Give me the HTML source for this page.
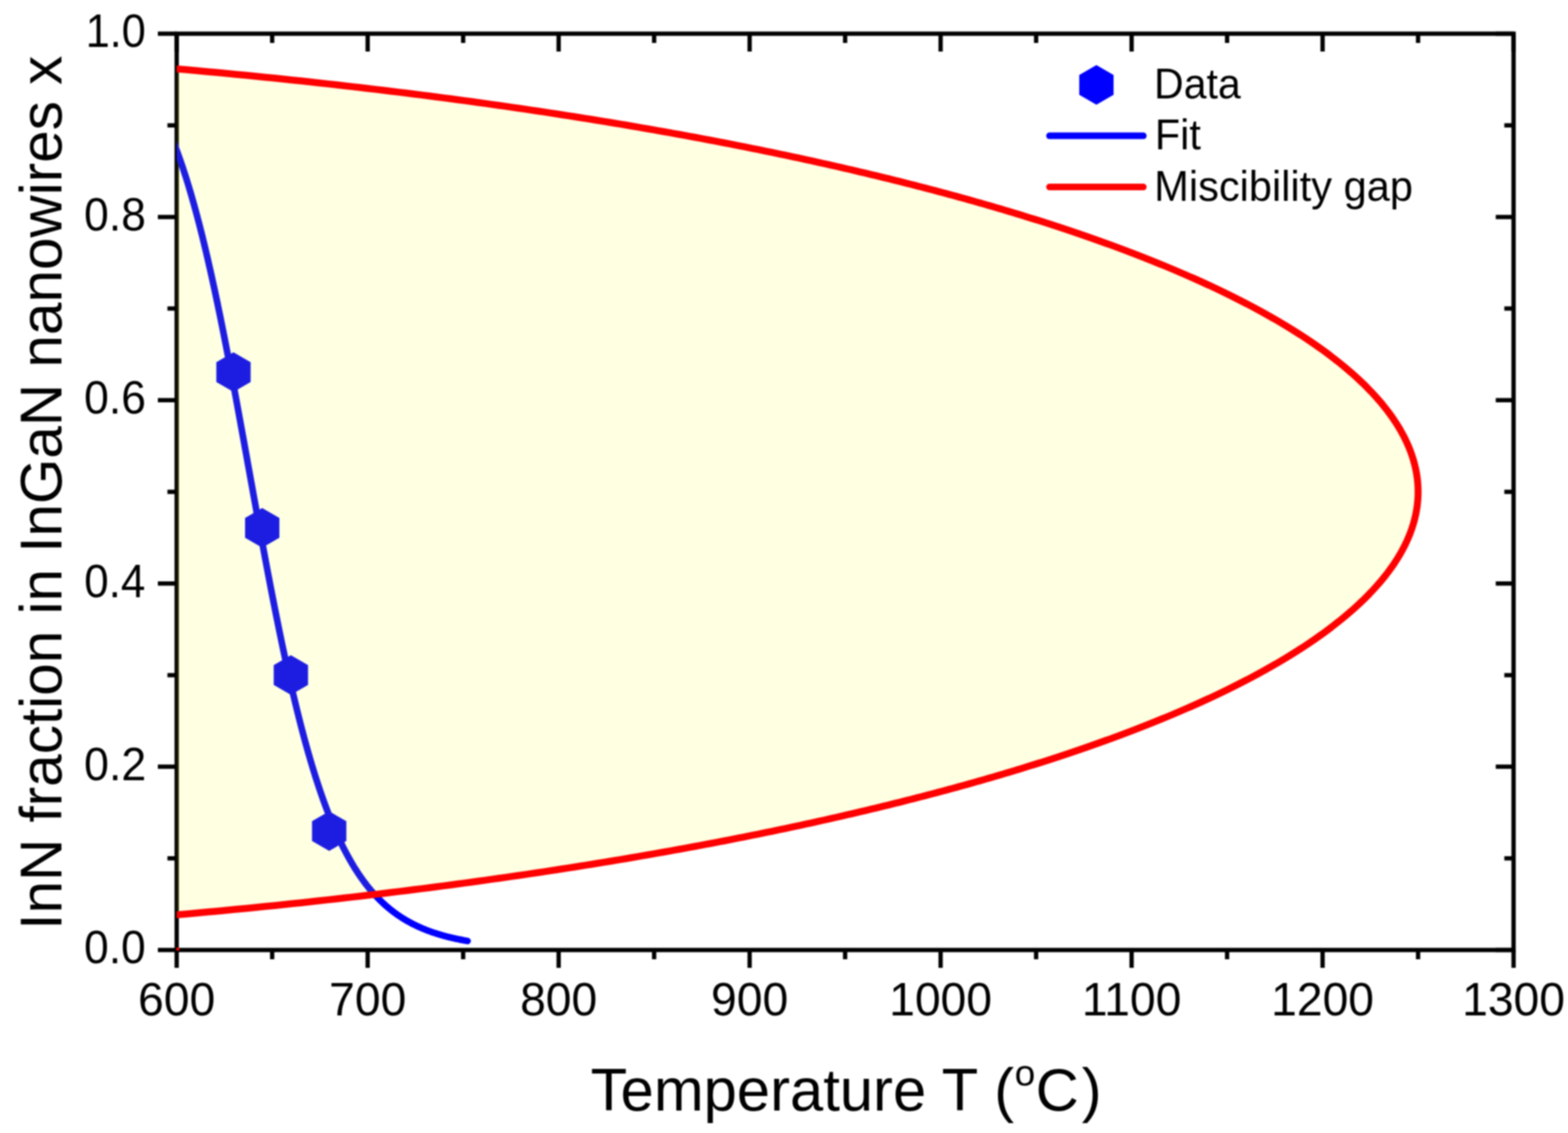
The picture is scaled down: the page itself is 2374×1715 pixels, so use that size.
<!DOCTYPE html>
<html><head><meta charset="utf-8"><style>
html,body{margin:0;padding:0;background:#fff;}
svg{display:block;} #w{filter:blur(0.8px);width:2374px;height:1715px;}
text{font-family:"Liberation Sans",Arial,sans-serif;fill:#000;}
</style></head><body><div id="w">
<svg width="2374" height="1715" viewBox="0 0 2374 1715">
<defs><clipPath id="pa"><rect x="267.5" y="51.0" width="2024.1" height="1387.0"/></clipPath></defs>
<rect width="2374" height="1715" fill="#fff"/>
<path d="M267.5,51.0 V1438.0 H2291.6 V51.0 Z" fill="none" stroke="#000" stroke-width="6.5" stroke-linejoin="miter"/>
<path d="M267.50,1438.0 V1465.0 M267.50,51.0 V78.0 M556.66,1438.0 V1465.0 M556.66,51.0 V78.0 M845.81,1438.0 V1465.0 M845.81,51.0 V78.0 M1134.97,1438.0 V1465.0 M1134.97,51.0 V78.0 M1424.13,1438.0 V1465.0 M1424.13,51.0 V78.0 M1713.29,1438.0 V1465.0 M1713.29,51.0 V78.0 M2002.44,1438.0 V1465.0 M2002.44,51.0 V78.0 M2291.60,1438.0 V1465.0 M2291.60,51.0 V78.0 M412.08,1438.0 V1452.0 M412.08,51.0 V65.0 M701.24,1438.0 V1452.0 M701.24,51.0 V65.0 M990.39,1438.0 V1452.0 M990.39,51.0 V65.0 M1279.55,1438.0 V1452.0 M1279.55,51.0 V65.0 M1568.71,1438.0 V1452.0 M1568.71,51.0 V65.0 M1857.86,1438.0 V1452.0 M1857.86,51.0 V65.0 M2147.02,1438.0 V1452.0 M2147.02,51.0 V65.0 M267.5,1438.00 H239.0 M2291.6,1438.00 H2264.6 M267.5,1160.60 H239.0 M2291.6,1160.60 H2264.6 M267.5,883.20 H239.0 M2291.6,883.20 H2264.6 M267.5,605.80 H239.0 M2291.6,605.80 H2264.6 M267.5,328.40 H239.0 M2291.6,328.40 H2264.6 M267.5,51.00 H239.0 M2291.6,51.00 H2264.6 M267.5,1299.30 H253.5 M2291.6,1299.30 H2277.6 M267.5,1021.90 H253.5 M2291.6,1021.90 H2277.6 M267.5,744.50 H253.5 M2291.6,744.50 H2277.6 M267.5,467.10 H253.5 M2291.6,467.10 H2277.6 M267.5,189.70 H253.5 M2291.6,189.70 H2277.6" stroke="#000" stroke-width="6.5" fill="none" stroke-linecap="butt"/>
<g clip-path="url(#pa)">
<path d="M255.93,198.68 257.35,202.00 258.77,205.38 260.18,208.82 261.60,212.32 263.02,215.89 264.43,219.52 265.85,223.22 267.27,226.98 268.68,230.80 270.10,234.70 271.52,238.66 272.94,242.68 274.35,246.78 275.77,250.94 277.19,255.17 278.60,259.47 280.02,263.84 281.44,268.28 282.85,272.79 284.27,277.37 285.69,282.02 287.10,286.74 288.52,291.53 289.94,296.39 291.35,301.33 292.77,306.33 294.19,311.41 295.60,316.56 297.02,321.78 298.44,327.07 299.85,332.43 301.27,337.86 302.69,343.37 304.10,348.95 305.52,354.59 306.94,360.31 308.35,366.10 309.77,371.95 311.19,377.88 312.60,383.87 314.02,389.93 315.44,396.06 316.86,402.26 318.27,408.52 319.69,414.85 321.11,421.24 322.52,427.70 323.94,434.21 325.36,440.80 326.77,447.44 328.19,454.14 329.61,460.90 331.02,467.72 332.44,474.59 333.86,481.53 335.27,488.51 336.69,495.55 338.11,502.64 339.52,509.78 340.94,516.97 342.36,524.20 343.77,531.49 345.19,538.81 346.61,546.18 348.02,553.59 349.44,561.04 350.86,568.53 352.27,576.05 353.69,583.61 355.11,591.19 356.53,598.81 357.94,606.46 359.36,614.14 360.78,621.84 362.19,629.56 363.61,637.30 365.03,645.07 366.44,652.85 367.86,660.64 369.28,668.45 370.69,676.27 372.11,684.10 373.53,691.93 374.94,699.77 376.36,707.62 377.78,715.46 379.19,723.31 380.61,731.15 382.03,738.98 383.44,746.81 384.86,754.63 386.28,762.44 387.69,770.24 389.11,778.02 390.53,785.78 391.94,793.53 393.36,801.25 394.78,808.96 396.19,816.63 397.61,824.29 399.03,831.91 400.45,839.51 401.86,847.07 403.28,854.60 404.70,862.10 406.11,869.56 407.53,876.98 408.95,884.36 410.36,891.71 411.78,899.01 413.20,906.27 414.61,913.48 416.03,920.64 417.45,927.76 418.86,934.83 420.28,941.85 421.70,948.82 423.11,955.74 424.53,962.60 425.95,969.41 427.36,976.16 428.78,982.86 430.20,989.50 431.61,996.08 433.03,1002.61 434.45,1009.07 435.86,1015.48 437.28,1021.82 438.70,1028.10 440.12,1034.33 441.53,1040.48 442.95,1046.58 444.37,1052.61 445.78,1058.58 447.20,1064.48 448.62,1070.32 450.03,1076.10 451.45,1081.81 452.87,1087.45 454.28,1093.03 455.70,1098.55 457.12,1103.99 458.53,1109.38 459.95,1114.69 461.37,1119.95 462.78,1125.13 464.20,1130.25 465.62,1135.31 467.03,1140.30 468.45,1145.22 469.87,1150.08 471.28,1154.88 472.70,1159.61 474.12,1164.27 475.53,1168.88 476.95,1173.41 478.37,1177.89 479.78,1182.30 481.20,1186.65 482.62,1190.94 484.04,1195.16 485.45,1199.33 486.87,1203.43 488.29,1207.47 489.70,1211.46 491.12,1215.38 492.54,1219.24 493.95,1223.05 495.37,1226.80 496.79,1230.48 498.20,1234.12 499.62,1237.69 501.04,1241.21 502.45,1244.68 503.87,1248.09 505.29,1251.45 506.70,1254.75 508.12,1258.00 509.54,1261.19 510.95,1264.34 512.37,1267.43 513.79,1270.48 515.20,1273.47 516.62,1276.41 518.04,1279.31 519.45,1282.16 520.87,1284.96 522.29,1287.71 523.71,1290.42 525.12,1293.08 526.54,1295.69 527.96,1298.26 529.37,1300.79 530.79,1303.27 532.21,1305.72 533.62,1308.11 535.04,1310.47 536.46,1312.79 537.87,1315.07 539.29,1317.30 540.71,1319.50 542.12,1321.66 543.54,1323.78 544.96,1325.86 546.37,1327.91 547.79,1329.92 549.21,1331.90 550.62,1333.84 552.04,1335.74 553.46,1337.62 554.87,1339.45 556.29,1341.26 557.71,1343.03 559.12,1344.77 560.54,1346.48 561.96,1348.16 563.37,1349.81 564.79,1351.43 566.21,1353.02 567.63,1354.58 569.04,1356.11 570.46,1357.61 571.88,1359.09 573.29,1360.54 574.71,1361.96 576.13,1363.36 577.54,1364.73 578.96,1366.08 580.38,1367.40 581.79,1368.70 583.21,1369.97 584.63,1371.22 586.04,1372.45 587.46,1373.65 588.88,1374.83 590.29,1375.99 591.71,1377.13 593.13,1378.25 594.54,1379.35 595.96,1380.42 597.38,1381.48 598.79,1382.52 600.21,1383.54 601.63,1384.54 603.04,1385.52 604.46,1386.48 605.88,1387.42 607.29,1388.35 608.71,1389.26 610.13,1390.15 611.55,1391.03 612.96,1391.89 614.38,1392.73 615.80,1393.56 617.21,1394.37 618.63,1395.17 620.05,1395.95 621.46,1396.72 622.88,1397.47 624.30,1398.21 625.71,1398.94 627.13,1399.65 628.55,1400.35 629.96,1401.03 631.38,1401.71 632.80,1402.37 634.21,1403.01 635.63,1403.65 637.05,1404.27 638.46,1404.89 639.88,1405.49 641.30,1406.08 642.71,1406.66 644.13,1407.22 645.55,1407.78 646.96,1408.33 648.38,1408.86 649.80,1409.39 651.22,1409.91 652.63,1410.41 654.05,1410.91 655.47,1411.40 656.88,1411.88 658.30,1412.35 659.72,1412.81 661.13,1413.27 662.55,1413.71 663.97,1414.15 665.38,1414.57 666.80,1415.00 668.22,1415.41 669.63,1415.81 671.05,1416.21 672.47,1416.60 673.88,1416.98 675.30,1417.36 676.72,1417.73 678.13,1418.09 679.55,1418.44 680.97,1418.79 682.38,1419.13 683.80,1419.47 685.22,1419.80 686.63,1420.12 688.05,1420.44 689.47,1420.75 690.88,1421.06 692.30,1421.36 693.72,1421.65 695.14,1421.94 696.55,1422.23 697.97,1422.50 699.39,1422.78 700.80,1423.05 702.22,1423.31 703.64,1423.57 705.05,1423.82 706.47,1424.07 707.89,1424.32" fill="none" stroke="#0000ff" stroke-width="10" stroke-linecap="round" stroke-linejoin="round"/>
<path d="M353.50,533.20 379.48,548.20 379.48,578.20 353.50,593.20 327.52,578.20 327.52,548.20Z M397.00,769.00 422.98,784.00 422.98,814.00 397.00,829.00 371.02,814.00 371.02,784.00Z M440.40,991.80 466.38,1006.80 466.38,1036.80 440.40,1051.80 414.42,1036.80 414.42,1006.80Z M498.40,1228.10 524.38,1243.10 524.38,1273.10 498.40,1288.10 472.42,1273.10 472.42,1243.10Z" fill="#0000ff"/>
<path d="M250.15,1386.28 266.45,1384.86 282.46,1383.44 298.21,1382.02 313.70,1380.60 328.95,1379.18 343.95,1377.76 358.73,1376.34 373.29,1374.92 387.63,1373.50 401.77,1372.08 415.71,1370.66 429.46,1369.24 443.02,1367.83 456.41,1366.41 469.61,1364.99 482.65,1363.57 495.53,1362.15 508.24,1360.73 520.80,1359.31 533.21,1357.89 545.48,1356.47 557.60,1355.05 569.58,1353.63 581.43,1352.21 593.15,1350.79 604.73,1349.37 616.20,1347.95 627.53,1346.54 638.76,1345.12 649.86,1343.70 660.85,1342.28 671.73,1340.86 682.50,1339.44 693.16,1338.02 703.72,1336.60 714.17,1335.18 724.53,1333.76 734.79,1332.34 744.95,1330.92 755.02,1329.50 765.00,1328.08 774.89,1326.66 784.68,1325.24 794.39,1323.83 804.02,1322.41 813.56,1320.99 823.02,1319.57 832.40,1318.15 841.70,1316.73 850.92,1315.31 860.06,1313.89 869.13,1312.47 878.12,1311.05 887.05,1309.63 895.90,1308.21 904.67,1306.79 913.38,1305.37 922.03,1303.95 930.60,1302.54 939.11,1301.12 947.55,1299.70 955.93,1298.28 964.24,1296.86 972.49,1295.44 980.68,1294.02 988.81,1292.60 996.88,1291.18 1004.89,1289.76 1012.84,1288.34 1020.74,1286.92 1028.57,1285.50 1036.36,1284.08 1044.08,1282.66 1051.76,1281.25 1059.37,1279.83 1066.94,1278.41 1074.45,1276.99 1081.91,1275.57 1089.32,1274.15 1096.68,1272.73 1103.99,1271.31 1111.25,1269.89 1118.47,1268.47 1125.63,1267.05 1132.75,1265.63 1139.81,1264.21 1146.84,1262.79 1153.81,1261.37 1160.74,1259.95 1167.63,1258.54 1174.47,1257.12 1181.27,1255.70 1188.02,1254.28 1194.73,1252.86 1201.40,1251.44 1208.03,1250.02 1214.61,1248.60 1221.16,1247.18 1227.66,1245.76 1234.12,1244.34 1240.54,1242.92 1246.92,1241.50 1253.27,1240.08 1259.57,1238.66 1265.83,1237.25 1272.06,1235.83 1278.25,1234.41 1284.40,1232.99 1290.52,1231.57 1296.60,1230.15 1302.64,1228.73 1308.64,1227.31 1314.61,1225.89 1320.55,1224.47 1326.45,1223.05 1332.31,1221.63 1338.14,1220.21 1343.93,1218.79 1349.70,1217.37 1355.42,1215.95 1361.12,1214.54 1366.78,1213.12 1372.41,1211.70 1378.00,1210.28 1383.57,1208.86 1389.10,1207.44 1394.60,1206.02 1400.07,1204.60 1405.51,1203.18 1410.91,1201.76 1416.29,1200.34 1421.63,1198.92 1426.95,1197.50 1432.23,1196.08 1437.48,1194.66 1442.71,1193.25 1447.90,1191.83 1453.07,1190.41 1458.21,1188.99 1463.32,1187.57 1468.40,1186.15 1473.45,1184.73 1478.47,1183.31 1483.47,1181.89 1488.43,1180.47 1493.37,1179.05 1498.28,1177.63 1503.17,1176.21 1508.03,1174.79 1512.86,1173.37 1517.66,1171.95 1522.44,1170.54 1527.19,1169.12 1531.92,1167.70 1536.62,1166.28 1541.29,1164.86 1545.94,1163.44 1550.56,1162.02 1555.16,1160.60 1560.76,1158.86 1566.33,1157.12 1571.86,1155.38 1577.35,1153.64 1582.81,1151.90 1588.23,1150.15 1593.61,1148.41 1598.96,1146.67 1604.27,1144.93 1609.54,1143.19 1614.78,1141.45 1619.99,1139.71 1625.16,1137.97 1630.29,1136.23 1635.39,1134.49 1640.46,1132.74 1645.50,1131.00 1650.50,1129.26 1655.46,1127.52 1660.40,1125.78 1665.30,1124.04 1670.16,1122.30 1675.00,1120.56 1679.80,1118.82 1684.57,1117.08 1689.31,1115.34 1694.02,1113.59 1698.69,1111.85 1703.34,1110.11 1707.95,1108.37 1712.53,1106.63 1717.08,1104.89 1721.60,1103.15 1726.09,1101.41 1730.55,1099.67 1734.98,1097.93 1739.38,1096.18 1743.75,1094.44 1748.09,1092.70 1752.40,1090.96 1756.68,1089.22 1760.93,1087.48 1765.15,1085.74 1769.35,1084.00 1773.51,1082.26 1777.65,1080.52 1781.76,1078.78 1785.84,1077.03 1789.89,1075.29 1793.91,1073.55 1797.91,1071.81 1801.88,1070.07 1805.82,1068.33 1809.73,1066.59 1813.62,1064.85 1817.48,1063.11 1821.31,1061.37 1825.11,1059.63 1828.89,1057.88 1832.64,1056.14 1836.36,1054.40 1840.06,1052.66 1843.73,1050.92 1847.38,1049.18 1851.00,1047.44 1854.59,1045.70 1858.16,1043.96 1861.70,1042.22 1865.22,1040.47 1868.71,1038.73 1872.17,1036.99 1875.61,1035.25 1879.03,1033.51 1882.42,1031.77 1885.78,1030.03 1889.12,1028.29 1892.44,1026.55 1895.73,1024.81 1898.99,1023.07 1902.23,1021.32 1905.45,1019.58 1908.64,1017.84 1911.81,1016.10 1914.95,1014.36 1918.07,1012.62 1921.17,1010.88 1924.24,1009.14 1927.29,1007.40 1930.31,1005.66 1933.31,1003.91 1936.29,1002.17 1939.24,1000.43 1942.17,998.69 1945.08,996.95 1947.96,995.21 1950.82,993.47 1953.66,991.73 1956.48,989.99 1959.27,988.25 1962.04,986.51 1964.78,984.76 1967.50,983.02 1970.21,981.28 1972.88,979.54 1975.54,977.80 1978.17,976.06 1980.78,974.32 1983.37,972.58 1985.94,970.84 1988.48,969.10 1991.00,967.35 1993.50,965.61 1995.98,963.87 1998.44,962.13 2000.87,960.39 2003.28,958.65 2005.67,956.91 2008.04,955.17 2010.39,953.43 2012.71,951.69 2015.02,949.95 2017.30,948.20 2019.56,946.46 2021.80,944.72 2024.02,942.98 2026.22,941.24 2028.39,939.50 2030.55,937.76 2032.68,936.02 2034.80,934.28 2036.89,932.54 2038.96,930.80 2041.01,929.05 2043.04,927.31 2045.05,925.57 2047.04,923.83 2049.01,922.09 2050.95,920.35 2052.88,918.61 2054.78,916.87 2056.67,915.13 2058.53,913.39 2060.38,911.64 2062.20,909.90 2064.01,908.16 2065.79,906.42 2067.55,904.68 2069.30,902.94 2071.02,901.20 2072.72,899.46 2074.40,897.72 2076.07,895.98 2077.71,894.24 2079.33,892.49 2080.93,890.75 2082.52,889.01 2084.08,887.27 2085.62,885.53 2087.15,883.79 2088.65,882.05 2090.13,880.31 2091.60,878.57 2093.04,876.83 2094.47,875.08 2095.87,873.34 2097.26,871.60 2098.62,869.86 2099.97,868.12 2101.30,866.38 2102.60,864.64 2103.89,862.90 2105.16,861.16 2106.41,859.42 2107.64,857.68 2108.85,855.93 2110.04,854.19 2111.21,852.45 2112.37,850.71 2113.50,848.97 2114.62,847.23 2115.71,845.49 2116.79,843.75 2117.84,842.01 2118.88,840.27 2119.90,838.52 2120.90,836.78 2121.88,835.04 2122.84,833.30 2123.79,831.56 2124.71,829.82 2125.61,828.08 2126.50,826.34 2127.37,824.60 2128.22,822.86 2129.04,821.12 2129.85,819.37 2130.65,817.63 2131.42,815.89 2132.17,814.15 2132.91,812.41 2133.62,810.67 2134.32,808.93 2135.00,807.19 2135.66,805.45 2136.30,803.71 2136.92,801.97 2137.53,800.22 2138.11,798.48 2138.68,796.74 2139.23,795.00 2139.75,793.26 2140.26,791.52 2140.76,789.78 2141.23,788.04 2141.68,786.30 2142.12,784.56 2142.54,782.81 2142.94,781.07 2143.32,779.33 2143.68,777.59 2144.02,775.85 2144.34,774.11 2144.65,772.37 2144.94,770.63 2145.21,768.89 2145.46,767.15 2145.69,765.41 2145.90,763.66 2146.09,761.92 2146.27,760.18 2146.43,758.44 2146.57,756.70 2146.69,754.96 2146.79,753.22 2146.87,751.48 2146.94,749.74 2146.98,748.00 2147.01,746.25 2147.02,744.51 2147.02,744.50 2147.02,744.49 2147.01,742.75 2146.98,741.00 2146.94,739.26 2146.87,737.52 2146.79,735.78 2146.69,734.04 2146.57,732.30 2146.43,730.56 2146.27,728.82 2146.09,727.08 2145.90,725.34 2145.69,723.59 2145.46,721.85 2145.21,720.11 2144.94,718.37 2144.65,716.63 2144.34,714.89 2144.02,713.15 2143.68,711.41 2143.32,709.67 2142.94,707.93 2142.54,706.19 2142.12,704.44 2141.68,702.70 2141.23,700.96 2140.76,699.22 2140.26,697.48 2139.75,695.74 2139.23,694.00 2138.68,692.26 2138.11,690.52 2137.53,688.78 2136.92,687.03 2136.30,685.29 2135.66,683.55 2135.00,681.81 2134.32,680.07 2133.62,678.33 2132.91,676.59 2132.17,674.85 2131.42,673.11 2130.65,671.37 2129.85,669.63 2129.04,667.88 2128.22,666.14 2127.37,664.40 2126.50,662.66 2125.61,660.92 2124.71,659.18 2123.79,657.44 2122.84,655.70 2121.88,653.96 2120.90,652.22 2119.90,650.48 2118.88,648.73 2117.84,646.99 2116.79,645.25 2115.71,643.51 2114.62,641.77 2113.50,640.03 2112.37,638.29 2111.21,636.55 2110.04,634.81 2108.85,633.07 2107.64,631.32 2106.41,629.58 2105.16,627.84 2103.89,626.10 2102.60,624.36 2101.30,622.62 2099.97,620.88 2098.62,619.14 2097.26,617.40 2095.87,615.66 2094.47,613.92 2093.04,612.17 2091.60,610.43 2090.13,608.69 2088.65,606.95 2087.15,605.21 2085.62,603.47 2084.08,601.73 2082.52,599.99 2080.93,598.25 2079.33,596.51 2077.71,594.76 2076.07,593.02 2074.40,591.28 2072.72,589.54 2071.02,587.80 2069.30,586.06 2067.55,584.32 2065.79,582.58 2064.01,580.84 2062.20,579.10 2060.38,577.36 2058.53,575.61 2056.67,573.87 2054.78,572.13 2052.88,570.39 2050.95,568.65 2049.01,566.91 2047.04,565.17 2045.05,563.43 2043.04,561.69 2041.01,559.95 2038.96,558.20 2036.89,556.46 2034.80,554.72 2032.68,552.98 2030.55,551.24 2028.39,549.50 2026.22,547.76 2024.02,546.02 2021.80,544.28 2019.56,542.54 2017.30,540.80 2015.02,539.05 2012.71,537.31 2010.39,535.57 2008.04,533.83 2005.67,532.09 2003.28,530.35 2000.87,528.61 1998.44,526.87 1995.98,525.13 1993.50,523.39 1991.00,521.65 1988.48,519.90 1985.94,518.16 1983.37,516.42 1980.78,514.68 1978.17,512.94 1975.54,511.20 1972.88,509.46 1970.21,507.72 1967.50,505.98 1964.78,504.24 1962.04,502.49 1959.27,500.75 1956.48,499.01 1953.66,497.27 1950.82,495.53 1947.96,493.79 1945.08,492.05 1942.17,490.31 1939.24,488.57 1936.29,486.83 1933.31,485.09 1930.31,483.34 1927.29,481.60 1924.24,479.86 1921.17,478.12 1918.07,476.38 1914.95,474.64 1911.81,472.90 1908.64,471.16 1905.45,469.42 1902.23,467.68 1898.99,465.93 1895.73,464.19 1892.44,462.45 1889.12,460.71 1885.78,458.97 1882.42,457.23 1879.03,455.49 1875.61,453.75 1872.17,452.01 1868.71,450.27 1865.22,448.53 1861.70,446.78 1858.16,445.04 1854.59,443.30 1851.00,441.56 1847.38,439.82 1843.73,438.08 1840.06,436.34 1836.36,434.60 1832.64,432.86 1828.89,431.12 1825.11,429.37 1821.31,427.63 1817.48,425.89 1813.62,424.15 1809.73,422.41 1805.82,420.67 1801.88,418.93 1797.91,417.19 1793.91,415.45 1789.89,413.71 1785.84,411.97 1781.76,410.22 1777.65,408.48 1773.51,406.74 1769.35,405.00 1765.15,403.26 1760.93,401.52 1756.68,399.78 1752.40,398.04 1748.09,396.30 1743.75,394.56 1739.38,392.82 1734.98,391.07 1730.55,389.33 1726.09,387.59 1721.60,385.85 1717.08,384.11 1712.53,382.37 1707.95,380.63 1703.34,378.89 1698.69,377.15 1694.02,375.41 1689.31,373.66 1684.57,371.92 1679.80,370.18 1675.00,368.44 1670.16,366.70 1665.30,364.96 1660.40,363.22 1655.46,361.48 1650.50,359.74 1645.50,358.00 1640.46,356.26 1635.39,354.51 1630.29,352.77 1625.16,351.03 1619.99,349.29 1614.78,347.55 1609.54,345.81 1604.27,344.07 1598.96,342.33 1593.61,340.59 1588.23,338.85 1582.81,337.10 1577.35,335.36 1571.86,333.62 1566.33,331.88 1560.76,330.14 1555.16,328.40 1550.56,326.98 1545.94,325.56 1541.29,324.14 1536.62,322.72 1531.92,321.30 1527.19,319.88 1522.44,318.46 1517.66,317.05 1512.86,315.63 1508.03,314.21 1503.17,312.79 1498.28,311.37 1493.37,309.95 1488.43,308.53 1483.47,307.11 1478.47,305.69 1473.45,304.27 1468.40,302.85 1463.32,301.43 1458.21,300.01 1453.07,298.59 1447.90,297.17 1442.71,295.75 1437.48,294.34 1432.23,292.92 1426.95,291.50 1421.63,290.08 1416.29,288.66 1410.91,287.24 1405.51,285.82 1400.07,284.40 1394.60,282.98 1389.10,281.56 1383.57,280.14 1378.00,278.72 1372.41,277.30 1366.78,275.88 1361.12,274.46 1355.42,273.05 1349.70,271.63 1343.93,270.21 1338.14,268.79 1332.31,267.37 1326.45,265.95 1320.55,264.53 1314.61,263.11 1308.64,261.69 1302.64,260.27 1296.60,258.85 1290.52,257.43 1284.40,256.01 1278.25,254.59 1272.06,253.17 1265.83,251.75 1259.57,250.34 1253.27,248.92 1246.92,247.50 1240.54,246.08 1234.12,244.66 1227.66,243.24 1221.16,241.82 1214.61,240.40 1208.03,238.98 1201.40,237.56 1194.73,236.14 1188.02,234.72 1181.27,233.30 1174.47,231.88 1167.63,230.46 1160.74,229.05 1153.81,227.63 1146.84,226.21 1139.81,224.79 1132.75,223.37 1125.63,221.95 1118.47,220.53 1111.25,219.11 1103.99,217.69 1096.68,216.27 1089.32,214.85 1081.91,213.43 1074.45,212.01 1066.94,210.59 1059.37,209.17 1051.76,207.75 1044.08,206.34 1036.36,204.92 1028.57,203.50 1020.74,202.08 1012.84,200.66 1004.89,199.24 996.88,197.82 988.81,196.40 980.68,194.98 972.49,193.56 964.24,192.14 955.93,190.72 947.55,189.30 939.11,187.88 930.60,186.46 922.03,185.05 913.38,183.63 904.67,182.21 895.90,180.79 887.05,179.37 878.12,177.95 869.13,176.53 860.06,175.11 850.92,173.69 841.70,172.27 832.40,170.85 823.02,169.43 813.56,168.01 804.02,166.59 794.39,165.17 784.68,163.76 774.89,162.34 765.00,160.92 755.02,159.50 744.95,158.08 734.79,156.66 724.53,155.24 714.17,153.82 703.72,152.40 693.16,150.98 682.50,149.56 671.73,148.14 660.85,146.72 649.86,145.30 638.76,143.88 627.53,142.46 616.20,141.05 604.73,139.63 593.15,138.21 581.43,136.79 569.58,135.37 557.60,133.95 545.48,132.53 533.21,131.11 520.80,129.69 508.24,128.27 495.53,126.85 482.65,125.43 469.61,124.01 456.41,122.59 443.02,121.17 429.46,119.76 415.71,118.34 401.77,116.92 387.63,115.50 373.29,114.08 358.73,112.66 343.95,111.24 328.95,109.82 313.70,108.40 298.21,106.98 282.46,105.56 266.45,104.14 250.15,102.72 Z" fill="rgb(255,255,0)" fill-opacity="0.115" stroke="none"/>
<path d="M250.15,1386.28 266.45,1384.86 282.46,1383.44 298.21,1382.02 313.70,1380.60 328.95,1379.18 343.95,1377.76 358.73,1376.34 373.29,1374.92 387.63,1373.50 401.77,1372.08 415.71,1370.66 429.46,1369.24 443.02,1367.83 456.41,1366.41 469.61,1364.99 482.65,1363.57 495.53,1362.15 508.24,1360.73 520.80,1359.31 533.21,1357.89 545.48,1356.47 557.60,1355.05 569.58,1353.63 581.43,1352.21 593.15,1350.79 604.73,1349.37 616.20,1347.95 627.53,1346.54 638.76,1345.12 649.86,1343.70 660.85,1342.28 671.73,1340.86 682.50,1339.44 693.16,1338.02 703.72,1336.60 714.17,1335.18 724.53,1333.76 734.79,1332.34 744.95,1330.92 755.02,1329.50 765.00,1328.08 774.89,1326.66 784.68,1325.24 794.39,1323.83 804.02,1322.41 813.56,1320.99 823.02,1319.57 832.40,1318.15 841.70,1316.73 850.92,1315.31 860.06,1313.89 869.13,1312.47 878.12,1311.05 887.05,1309.63 895.90,1308.21 904.67,1306.79 913.38,1305.37 922.03,1303.95 930.60,1302.54 939.11,1301.12 947.55,1299.70 955.93,1298.28 964.24,1296.86 972.49,1295.44 980.68,1294.02 988.81,1292.60 996.88,1291.18 1004.89,1289.76 1012.84,1288.34 1020.74,1286.92 1028.57,1285.50 1036.36,1284.08 1044.08,1282.66 1051.76,1281.25 1059.37,1279.83 1066.94,1278.41 1074.45,1276.99 1081.91,1275.57 1089.32,1274.15 1096.68,1272.73 1103.99,1271.31 1111.25,1269.89 1118.47,1268.47 1125.63,1267.05 1132.75,1265.63 1139.81,1264.21 1146.84,1262.79 1153.81,1261.37 1160.74,1259.95 1167.63,1258.54 1174.47,1257.12 1181.27,1255.70 1188.02,1254.28 1194.73,1252.86 1201.40,1251.44 1208.03,1250.02 1214.61,1248.60 1221.16,1247.18 1227.66,1245.76 1234.12,1244.34 1240.54,1242.92 1246.92,1241.50 1253.27,1240.08 1259.57,1238.66 1265.83,1237.25 1272.06,1235.83 1278.25,1234.41 1284.40,1232.99 1290.52,1231.57 1296.60,1230.15 1302.64,1228.73 1308.64,1227.31 1314.61,1225.89 1320.55,1224.47 1326.45,1223.05 1332.31,1221.63 1338.14,1220.21 1343.93,1218.79 1349.70,1217.37 1355.42,1215.95 1361.12,1214.54 1366.78,1213.12 1372.41,1211.70 1378.00,1210.28 1383.57,1208.86 1389.10,1207.44 1394.60,1206.02 1400.07,1204.60 1405.51,1203.18 1410.91,1201.76 1416.29,1200.34 1421.63,1198.92 1426.95,1197.50 1432.23,1196.08 1437.48,1194.66 1442.71,1193.25 1447.90,1191.83 1453.07,1190.41 1458.21,1188.99 1463.32,1187.57 1468.40,1186.15 1473.45,1184.73 1478.47,1183.31 1483.47,1181.89 1488.43,1180.47 1493.37,1179.05 1498.28,1177.63 1503.17,1176.21 1508.03,1174.79 1512.86,1173.37 1517.66,1171.95 1522.44,1170.54 1527.19,1169.12 1531.92,1167.70 1536.62,1166.28 1541.29,1164.86 1545.94,1163.44 1550.56,1162.02 1555.16,1160.60 1560.76,1158.86 1566.33,1157.12 1571.86,1155.38 1577.35,1153.64 1582.81,1151.90 1588.23,1150.15 1593.61,1148.41 1598.96,1146.67 1604.27,1144.93 1609.54,1143.19 1614.78,1141.45 1619.99,1139.71 1625.16,1137.97 1630.29,1136.23 1635.39,1134.49 1640.46,1132.74 1645.50,1131.00 1650.50,1129.26 1655.46,1127.52 1660.40,1125.78 1665.30,1124.04 1670.16,1122.30 1675.00,1120.56 1679.80,1118.82 1684.57,1117.08 1689.31,1115.34 1694.02,1113.59 1698.69,1111.85 1703.34,1110.11 1707.95,1108.37 1712.53,1106.63 1717.08,1104.89 1721.60,1103.15 1726.09,1101.41 1730.55,1099.67 1734.98,1097.93 1739.38,1096.18 1743.75,1094.44 1748.09,1092.70 1752.40,1090.96 1756.68,1089.22 1760.93,1087.48 1765.15,1085.74 1769.35,1084.00 1773.51,1082.26 1777.65,1080.52 1781.76,1078.78 1785.84,1077.03 1789.89,1075.29 1793.91,1073.55 1797.91,1071.81 1801.88,1070.07 1805.82,1068.33 1809.73,1066.59 1813.62,1064.85 1817.48,1063.11 1821.31,1061.37 1825.11,1059.63 1828.89,1057.88 1832.64,1056.14 1836.36,1054.40 1840.06,1052.66 1843.73,1050.92 1847.38,1049.18 1851.00,1047.44 1854.59,1045.70 1858.16,1043.96 1861.70,1042.22 1865.22,1040.47 1868.71,1038.73 1872.17,1036.99 1875.61,1035.25 1879.03,1033.51 1882.42,1031.77 1885.78,1030.03 1889.12,1028.29 1892.44,1026.55 1895.73,1024.81 1898.99,1023.07 1902.23,1021.32 1905.45,1019.58 1908.64,1017.84 1911.81,1016.10 1914.95,1014.36 1918.07,1012.62 1921.17,1010.88 1924.24,1009.14 1927.29,1007.40 1930.31,1005.66 1933.31,1003.91 1936.29,1002.17 1939.24,1000.43 1942.17,998.69 1945.08,996.95 1947.96,995.21 1950.82,993.47 1953.66,991.73 1956.48,989.99 1959.27,988.25 1962.04,986.51 1964.78,984.76 1967.50,983.02 1970.21,981.28 1972.88,979.54 1975.54,977.80 1978.17,976.06 1980.78,974.32 1983.37,972.58 1985.94,970.84 1988.48,969.10 1991.00,967.35 1993.50,965.61 1995.98,963.87 1998.44,962.13 2000.87,960.39 2003.28,958.65 2005.67,956.91 2008.04,955.17 2010.39,953.43 2012.71,951.69 2015.02,949.95 2017.30,948.20 2019.56,946.46 2021.80,944.72 2024.02,942.98 2026.22,941.24 2028.39,939.50 2030.55,937.76 2032.68,936.02 2034.80,934.28 2036.89,932.54 2038.96,930.80 2041.01,929.05 2043.04,927.31 2045.05,925.57 2047.04,923.83 2049.01,922.09 2050.95,920.35 2052.88,918.61 2054.78,916.87 2056.67,915.13 2058.53,913.39 2060.38,911.64 2062.20,909.90 2064.01,908.16 2065.79,906.42 2067.55,904.68 2069.30,902.94 2071.02,901.20 2072.72,899.46 2074.40,897.72 2076.07,895.98 2077.71,894.24 2079.33,892.49 2080.93,890.75 2082.52,889.01 2084.08,887.27 2085.62,885.53 2087.15,883.79 2088.65,882.05 2090.13,880.31 2091.60,878.57 2093.04,876.83 2094.47,875.08 2095.87,873.34 2097.26,871.60 2098.62,869.86 2099.97,868.12 2101.30,866.38 2102.60,864.64 2103.89,862.90 2105.16,861.16 2106.41,859.42 2107.64,857.68 2108.85,855.93 2110.04,854.19 2111.21,852.45 2112.37,850.71 2113.50,848.97 2114.62,847.23 2115.71,845.49 2116.79,843.75 2117.84,842.01 2118.88,840.27 2119.90,838.52 2120.90,836.78 2121.88,835.04 2122.84,833.30 2123.79,831.56 2124.71,829.82 2125.61,828.08 2126.50,826.34 2127.37,824.60 2128.22,822.86 2129.04,821.12 2129.85,819.37 2130.65,817.63 2131.42,815.89 2132.17,814.15 2132.91,812.41 2133.62,810.67 2134.32,808.93 2135.00,807.19 2135.66,805.45 2136.30,803.71 2136.92,801.97 2137.53,800.22 2138.11,798.48 2138.68,796.74 2139.23,795.00 2139.75,793.26 2140.26,791.52 2140.76,789.78 2141.23,788.04 2141.68,786.30 2142.12,784.56 2142.54,782.81 2142.94,781.07 2143.32,779.33 2143.68,777.59 2144.02,775.85 2144.34,774.11 2144.65,772.37 2144.94,770.63 2145.21,768.89 2145.46,767.15 2145.69,765.41 2145.90,763.66 2146.09,761.92 2146.27,760.18 2146.43,758.44 2146.57,756.70 2146.69,754.96 2146.79,753.22 2146.87,751.48 2146.94,749.74 2146.98,748.00 2147.01,746.25 2147.02,744.51 2147.02,744.50 2147.02,744.49 2147.01,742.75 2146.98,741.00 2146.94,739.26 2146.87,737.52 2146.79,735.78 2146.69,734.04 2146.57,732.30 2146.43,730.56 2146.27,728.82 2146.09,727.08 2145.90,725.34 2145.69,723.59 2145.46,721.85 2145.21,720.11 2144.94,718.37 2144.65,716.63 2144.34,714.89 2144.02,713.15 2143.68,711.41 2143.32,709.67 2142.94,707.93 2142.54,706.19 2142.12,704.44 2141.68,702.70 2141.23,700.96 2140.76,699.22 2140.26,697.48 2139.75,695.74 2139.23,694.00 2138.68,692.26 2138.11,690.52 2137.53,688.78 2136.92,687.03 2136.30,685.29 2135.66,683.55 2135.00,681.81 2134.32,680.07 2133.62,678.33 2132.91,676.59 2132.17,674.85 2131.42,673.11 2130.65,671.37 2129.85,669.63 2129.04,667.88 2128.22,666.14 2127.37,664.40 2126.50,662.66 2125.61,660.92 2124.71,659.18 2123.79,657.44 2122.84,655.70 2121.88,653.96 2120.90,652.22 2119.90,650.48 2118.88,648.73 2117.84,646.99 2116.79,645.25 2115.71,643.51 2114.62,641.77 2113.50,640.03 2112.37,638.29 2111.21,636.55 2110.04,634.81 2108.85,633.07 2107.64,631.32 2106.41,629.58 2105.16,627.84 2103.89,626.10 2102.60,624.36 2101.30,622.62 2099.97,620.88 2098.62,619.14 2097.26,617.40 2095.87,615.66 2094.47,613.92 2093.04,612.17 2091.60,610.43 2090.13,608.69 2088.65,606.95 2087.15,605.21 2085.62,603.47 2084.08,601.73 2082.52,599.99 2080.93,598.25 2079.33,596.51 2077.71,594.76 2076.07,593.02 2074.40,591.28 2072.72,589.54 2071.02,587.80 2069.30,586.06 2067.55,584.32 2065.79,582.58 2064.01,580.84 2062.20,579.10 2060.38,577.36 2058.53,575.61 2056.67,573.87 2054.78,572.13 2052.88,570.39 2050.95,568.65 2049.01,566.91 2047.04,565.17 2045.05,563.43 2043.04,561.69 2041.01,559.95 2038.96,558.20 2036.89,556.46 2034.80,554.72 2032.68,552.98 2030.55,551.24 2028.39,549.50 2026.22,547.76 2024.02,546.02 2021.80,544.28 2019.56,542.54 2017.30,540.80 2015.02,539.05 2012.71,537.31 2010.39,535.57 2008.04,533.83 2005.67,532.09 2003.28,530.35 2000.87,528.61 1998.44,526.87 1995.98,525.13 1993.50,523.39 1991.00,521.65 1988.48,519.90 1985.94,518.16 1983.37,516.42 1980.78,514.68 1978.17,512.94 1975.54,511.20 1972.88,509.46 1970.21,507.72 1967.50,505.98 1964.78,504.24 1962.04,502.49 1959.27,500.75 1956.48,499.01 1953.66,497.27 1950.82,495.53 1947.96,493.79 1945.08,492.05 1942.17,490.31 1939.24,488.57 1936.29,486.83 1933.31,485.09 1930.31,483.34 1927.29,481.60 1924.24,479.86 1921.17,478.12 1918.07,476.38 1914.95,474.64 1911.81,472.90 1908.64,471.16 1905.45,469.42 1902.23,467.68 1898.99,465.93 1895.73,464.19 1892.44,462.45 1889.12,460.71 1885.78,458.97 1882.42,457.23 1879.03,455.49 1875.61,453.75 1872.17,452.01 1868.71,450.27 1865.22,448.53 1861.70,446.78 1858.16,445.04 1854.59,443.30 1851.00,441.56 1847.38,439.82 1843.73,438.08 1840.06,436.34 1836.36,434.60 1832.64,432.86 1828.89,431.12 1825.11,429.37 1821.31,427.63 1817.48,425.89 1813.62,424.15 1809.73,422.41 1805.82,420.67 1801.88,418.93 1797.91,417.19 1793.91,415.45 1789.89,413.71 1785.84,411.97 1781.76,410.22 1777.65,408.48 1773.51,406.74 1769.35,405.00 1765.15,403.26 1760.93,401.52 1756.68,399.78 1752.40,398.04 1748.09,396.30 1743.75,394.56 1739.38,392.82 1734.98,391.07 1730.55,389.33 1726.09,387.59 1721.60,385.85 1717.08,384.11 1712.53,382.37 1707.95,380.63 1703.34,378.89 1698.69,377.15 1694.02,375.41 1689.31,373.66 1684.57,371.92 1679.80,370.18 1675.00,368.44 1670.16,366.70 1665.30,364.96 1660.40,363.22 1655.46,361.48 1650.50,359.74 1645.50,358.00 1640.46,356.26 1635.39,354.51 1630.29,352.77 1625.16,351.03 1619.99,349.29 1614.78,347.55 1609.54,345.81 1604.27,344.07 1598.96,342.33 1593.61,340.59 1588.23,338.85 1582.81,337.10 1577.35,335.36 1571.86,333.62 1566.33,331.88 1560.76,330.14 1555.16,328.40 1550.56,326.98 1545.94,325.56 1541.29,324.14 1536.62,322.72 1531.92,321.30 1527.19,319.88 1522.44,318.46 1517.66,317.05 1512.86,315.63 1508.03,314.21 1503.17,312.79 1498.28,311.37 1493.37,309.95 1488.43,308.53 1483.47,307.11 1478.47,305.69 1473.45,304.27 1468.40,302.85 1463.32,301.43 1458.21,300.01 1453.07,298.59 1447.90,297.17 1442.71,295.75 1437.48,294.34 1432.23,292.92 1426.95,291.50 1421.63,290.08 1416.29,288.66 1410.91,287.24 1405.51,285.82 1400.07,284.40 1394.60,282.98 1389.10,281.56 1383.57,280.14 1378.00,278.72 1372.41,277.30 1366.78,275.88 1361.12,274.46 1355.42,273.05 1349.70,271.63 1343.93,270.21 1338.14,268.79 1332.31,267.37 1326.45,265.95 1320.55,264.53 1314.61,263.11 1308.64,261.69 1302.64,260.27 1296.60,258.85 1290.52,257.43 1284.40,256.01 1278.25,254.59 1272.06,253.17 1265.83,251.75 1259.57,250.34 1253.27,248.92 1246.92,247.50 1240.54,246.08 1234.12,244.66 1227.66,243.24 1221.16,241.82 1214.61,240.40 1208.03,238.98 1201.40,237.56 1194.73,236.14 1188.02,234.72 1181.27,233.30 1174.47,231.88 1167.63,230.46 1160.74,229.05 1153.81,227.63 1146.84,226.21 1139.81,224.79 1132.75,223.37 1125.63,221.95 1118.47,220.53 1111.25,219.11 1103.99,217.69 1096.68,216.27 1089.32,214.85 1081.91,213.43 1074.45,212.01 1066.94,210.59 1059.37,209.17 1051.76,207.75 1044.08,206.34 1036.36,204.92 1028.57,203.50 1020.74,202.08 1012.84,200.66 1004.89,199.24 996.88,197.82 988.81,196.40 980.68,194.98 972.49,193.56 964.24,192.14 955.93,190.72 947.55,189.30 939.11,187.88 930.60,186.46 922.03,185.05 913.38,183.63 904.67,182.21 895.90,180.79 887.05,179.37 878.12,177.95 869.13,176.53 860.06,175.11 850.92,173.69 841.70,172.27 832.40,170.85 823.02,169.43 813.56,168.01 804.02,166.59 794.39,165.17 784.68,163.76 774.89,162.34 765.00,160.92 755.02,159.50 744.95,158.08 734.79,156.66 724.53,155.24 714.17,153.82 703.72,152.40 693.16,150.98 682.50,149.56 671.73,148.14 660.85,146.72 649.86,145.30 638.76,143.88 627.53,142.46 616.20,141.05 604.73,139.63 593.15,138.21 581.43,136.79 569.58,135.37 557.60,133.95 545.48,132.53 533.21,131.11 520.80,129.69 508.24,128.27 495.53,126.85 482.65,125.43 469.61,124.01 456.41,122.59 443.02,121.17 429.46,119.76 415.71,118.34 401.77,116.92 387.63,115.50 373.29,114.08 358.73,112.66 343.95,111.24 328.95,109.82 313.70,108.40 298.21,106.98 282.46,105.56 266.45,104.14 250.15,102.72" fill="none" stroke="#ff0000" stroke-width="10.5" stroke-linejoin="round"/>
</g>
<circle cx="269.3" cy="1436.6" r="2.5" fill="#ff0000"/>
<g font-size="70"><text x="127.36" y="1458.3" textLength="93.29" lengthAdjust="spacingAndGlyphs">0.0</text><text x="127.34" y="1180.9" textLength="94.06" lengthAdjust="spacingAndGlyphs">0.2</text><text x="127.38" y="903.5" textLength="92.53" lengthAdjust="spacingAndGlyphs">0.4</text><text x="127.35" y="626.1" textLength="93.80" lengthAdjust="spacingAndGlyphs">0.6</text><text x="127.36" y="348.7" textLength="93.54" lengthAdjust="spacingAndGlyphs">0.8</text><text x="129.68" y="71.3" textLength="91.11" lengthAdjust="spacingAndGlyphs">1.0</text></g>
<g font-size="70"><text x="267.5" y="1537.3" text-anchor="middle">600</text><text x="556.7" y="1537.3" text-anchor="middle">700</text><text x="845.8" y="1537.3" text-anchor="middle">800</text><text x="1135.0" y="1537.3" text-anchor="middle">900</text><text x="1424.1" y="1537.3" text-anchor="middle">1000</text><text x="1713.3" y="1537.3" text-anchor="middle">1100</text><text x="2002.4" y="1537.3" text-anchor="middle">1200</text><text x="2291.6" y="1537.3" text-anchor="middle">1300</text></g>
<g font-size="64.5">
<path d="M1660.00,98.40 1685.98,113.40 1685.98,143.40 1660.00,158.40 1634.02,143.40 1634.02,113.40Z" fill="#0000ff"/>
<path d="M1589,205.6 H1731" stroke="#0000ff" stroke-width="10" stroke-linecap="round"/>
<path d="M1589,283.1 H1731" stroke="#ff0000" stroke-width="10" stroke-linecap="round"/>
<text x="1747.34" y="148.6" textLength="131.19" lengthAdjust="spacingAndGlyphs">Data</text>
<text x="1748.60" y="226.4" textLength="69.59" lengthAdjust="spacingAndGlyphs">Fit</text>
<text x="1747.48" y="303.8" textLength="391.86" lengthAdjust="spacingAndGlyphs">Miscibility gap</text>
</g>
<text font-size="88.5" transform="translate(93.2,1407.4) rotate(-90)">InN fraction in InGaN nanowires x</text>
<g font-size="90.5">
<text x="894.3" y="1681">Temperature T</text>
<text x="1505.2" y="1681">(</text>
<text x="1536.2" y="1643" font-size="56">o</text>
<text x="1568" y="1681">C</text>
<text x="1637.7" y="1681">)</text>
</g>
</svg></div>
</body></html>
